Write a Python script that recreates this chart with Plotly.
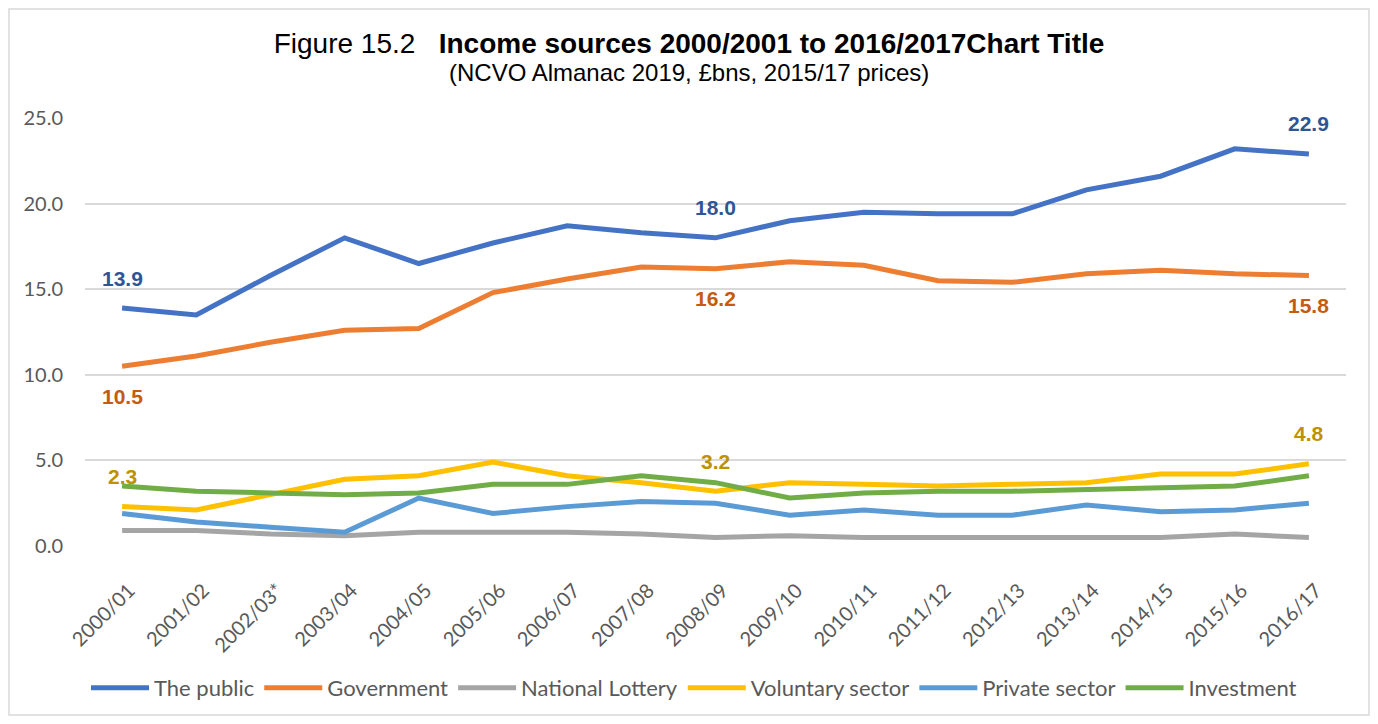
"""Income sources line chart (NCVO Almanac 2019)"""
import plotly.graph_objects as go

years = [
    "2000/01", "2001/02", "2002/03*", "2003/04", "2004/05", "2005/06",
    "2006/07", "2007/08", "2008/09", "2009/10", "2010/11", "2011/12",
    "2012/13", "2013/14", "2014/15", "2015/16", "2016/17",
]

the_public = [13.9, 13.5, 15.8, 18.0, 16.5, 17.7, 18.7, 18.3, 18.0, 19.0,
              19.5, 19.4, 19.4, 20.8, 21.6, 23.2, 22.9]
government = [10.5, 11.1, 11.9, 12.6, 12.7, 14.8, 15.6, 16.3, 16.2, 16.6,
              16.4, 15.5, 15.4, 15.9, 16.1, 15.9, 15.8]
national_lottery = [0.9, 0.9, 0.7, 0.6, 0.8, 0.8, 0.8, 0.7, 0.5, 0.6,
                    0.5, 0.5, 0.5, 0.5, 0.5, 0.7, 0.5]
voluntary_sector = [2.3, 2.1, 3.0, 3.9, 4.1, 4.9, 4.1, 3.7, 3.2, 3.7,
                    3.6, 3.5, 3.6, 3.7, 4.2, 4.2, 4.8]
private_sector = [1.9, 1.4, 1.1, 0.8, 2.8, 1.9, 2.3, 2.6, 2.5, 1.8,
                  2.1, 1.8, 1.8, 2.4, 2.0, 2.1, 2.5]
investment = [3.5, 3.2, 3.1, 3.0, 3.1, 3.6, 3.6, 4.1, 3.7, 2.8,
              3.1, 3.2, 3.2, 3.3, 3.4, 3.5, 4.1]

label_idx = [0, 8, 16]

SERIES = [
    ("The public", the_public, "#4472C4"),
    ("Government", government, "#ED7D31"),
    ("National Lottery", national_lottery, "#A5A5A5"),
    ("Voluntary sector", voluntary_sector, "#FFC000"),
    ("Private sector", private_sector, "#5B9BD5"),
    ("Investment", investment, "#70AD47"),
]

# data labels: (values, colour, shift in px)
LABELS = [
    (the_public, "#2F5597", 30),
    (government, "#C55A11", -30),
    (voluntary_sector, "#BF9000", 30),
]

W, H = 1362, 708  # page adds 8px body margin
L, R, T, B = 77, 24, 110, 170
PLOT_H = H - T - B

TICK_FONT = dict(family="Lato, sans-serif", size=20, color="#595959")

fig = go.Figure()

for name, values, color in SERIES:
    fig.add_trace(
        go.Scatter(
            x=years,
            y=values,
            name=name,
            mode="lines",
            line=dict(color=color, width=5),
        )
    )

annotations = []
for values, color, shift in LABELS:
    for i in label_idx:
        annotations.append(
            dict(
                x=years[i],
                y=values[i],
                text=f"<b>{values[i]:.1f}</b>",
                showarrow=False,
                yshift=shift,
                font=dict(family="Liberation Sans, Arial", size=21, color=color),
            )
        )

annotations.append(
    dict(
        text="(NCVO Almanac 2019, £bns, 2015/17 prices)",
        xref="paper",
        yref="paper",
        x=(681 - L) / (W - L - R),
        y=(H - B - 65) / PLOT_H,
        xanchor="center",
        yanchor="middle",
        showarrow=False,
        font=dict(family="Liberation Sans, Arial", size=24, color="#000000"),
    )
)

fig.update_layout(
    width=W,
    height=H,
    paper_bgcolor="white",
    plot_bgcolor="white",
    margin=dict(l=L, r=R, t=T, b=B, autoexpand=False),
    title=dict(
        text="Figure 15.2   <b>Income sources 2000/2001 to 2016/2017Chart Title</b>",
        x=0.5,
        xref="container",
        xanchor="center",
        y=1 - 35 / H,
        yanchor="middle",
        font=dict(family="Liberation Sans, Arial", size=28, color="#000000"),
    ),
    xaxis=dict(
        range=[-0.5, len(years) - 0.5],
        tickangle=-45,
        tickfont=TICK_FONT,
        showgrid=False,
        showline=False,
        ticks="",
        ticklabelstandoff=28,
        ticklabelshift=7,
        automargin=False,
    ),
    yaxis=dict(
        range=[0, 25],
        dtick=5,
        tickformat=".1f",
        tickfont=TICK_FONT,
        gridcolor="#D9D9D9",
        gridwidth=1.5,
        zeroline=False,
        ticklabelstandoff=21,
        automargin=False,
    ),
    legend=dict(
        orientation="h",
        xref="container",
        yref="container",
        x=686 / W,
        y=1 - 680 / H,
        xanchor="center",
        yanchor="middle",
        font=dict(family="Lato, sans-serif", size=22, color="#595959"),
        itemwidth=58,
    ),
    annotations=annotations,
    shapes=[
        dict(
            type="rect",
            xref="paper",
            yref="paper",
            x0=-(L - 1) / (W - L - R),
            x1=1 + (R - 1) / (W - L - R),
            y0=-(B - 1) / PLOT_H,
            y1=1 + (T - 1) / PLOT_H,
            line=dict(color="#D9D9D9", width=1.5),
            fillcolor="rgba(0,0,0,0)",
            layer="below",
        )
    ],
)

fig.write_html("out.html")
